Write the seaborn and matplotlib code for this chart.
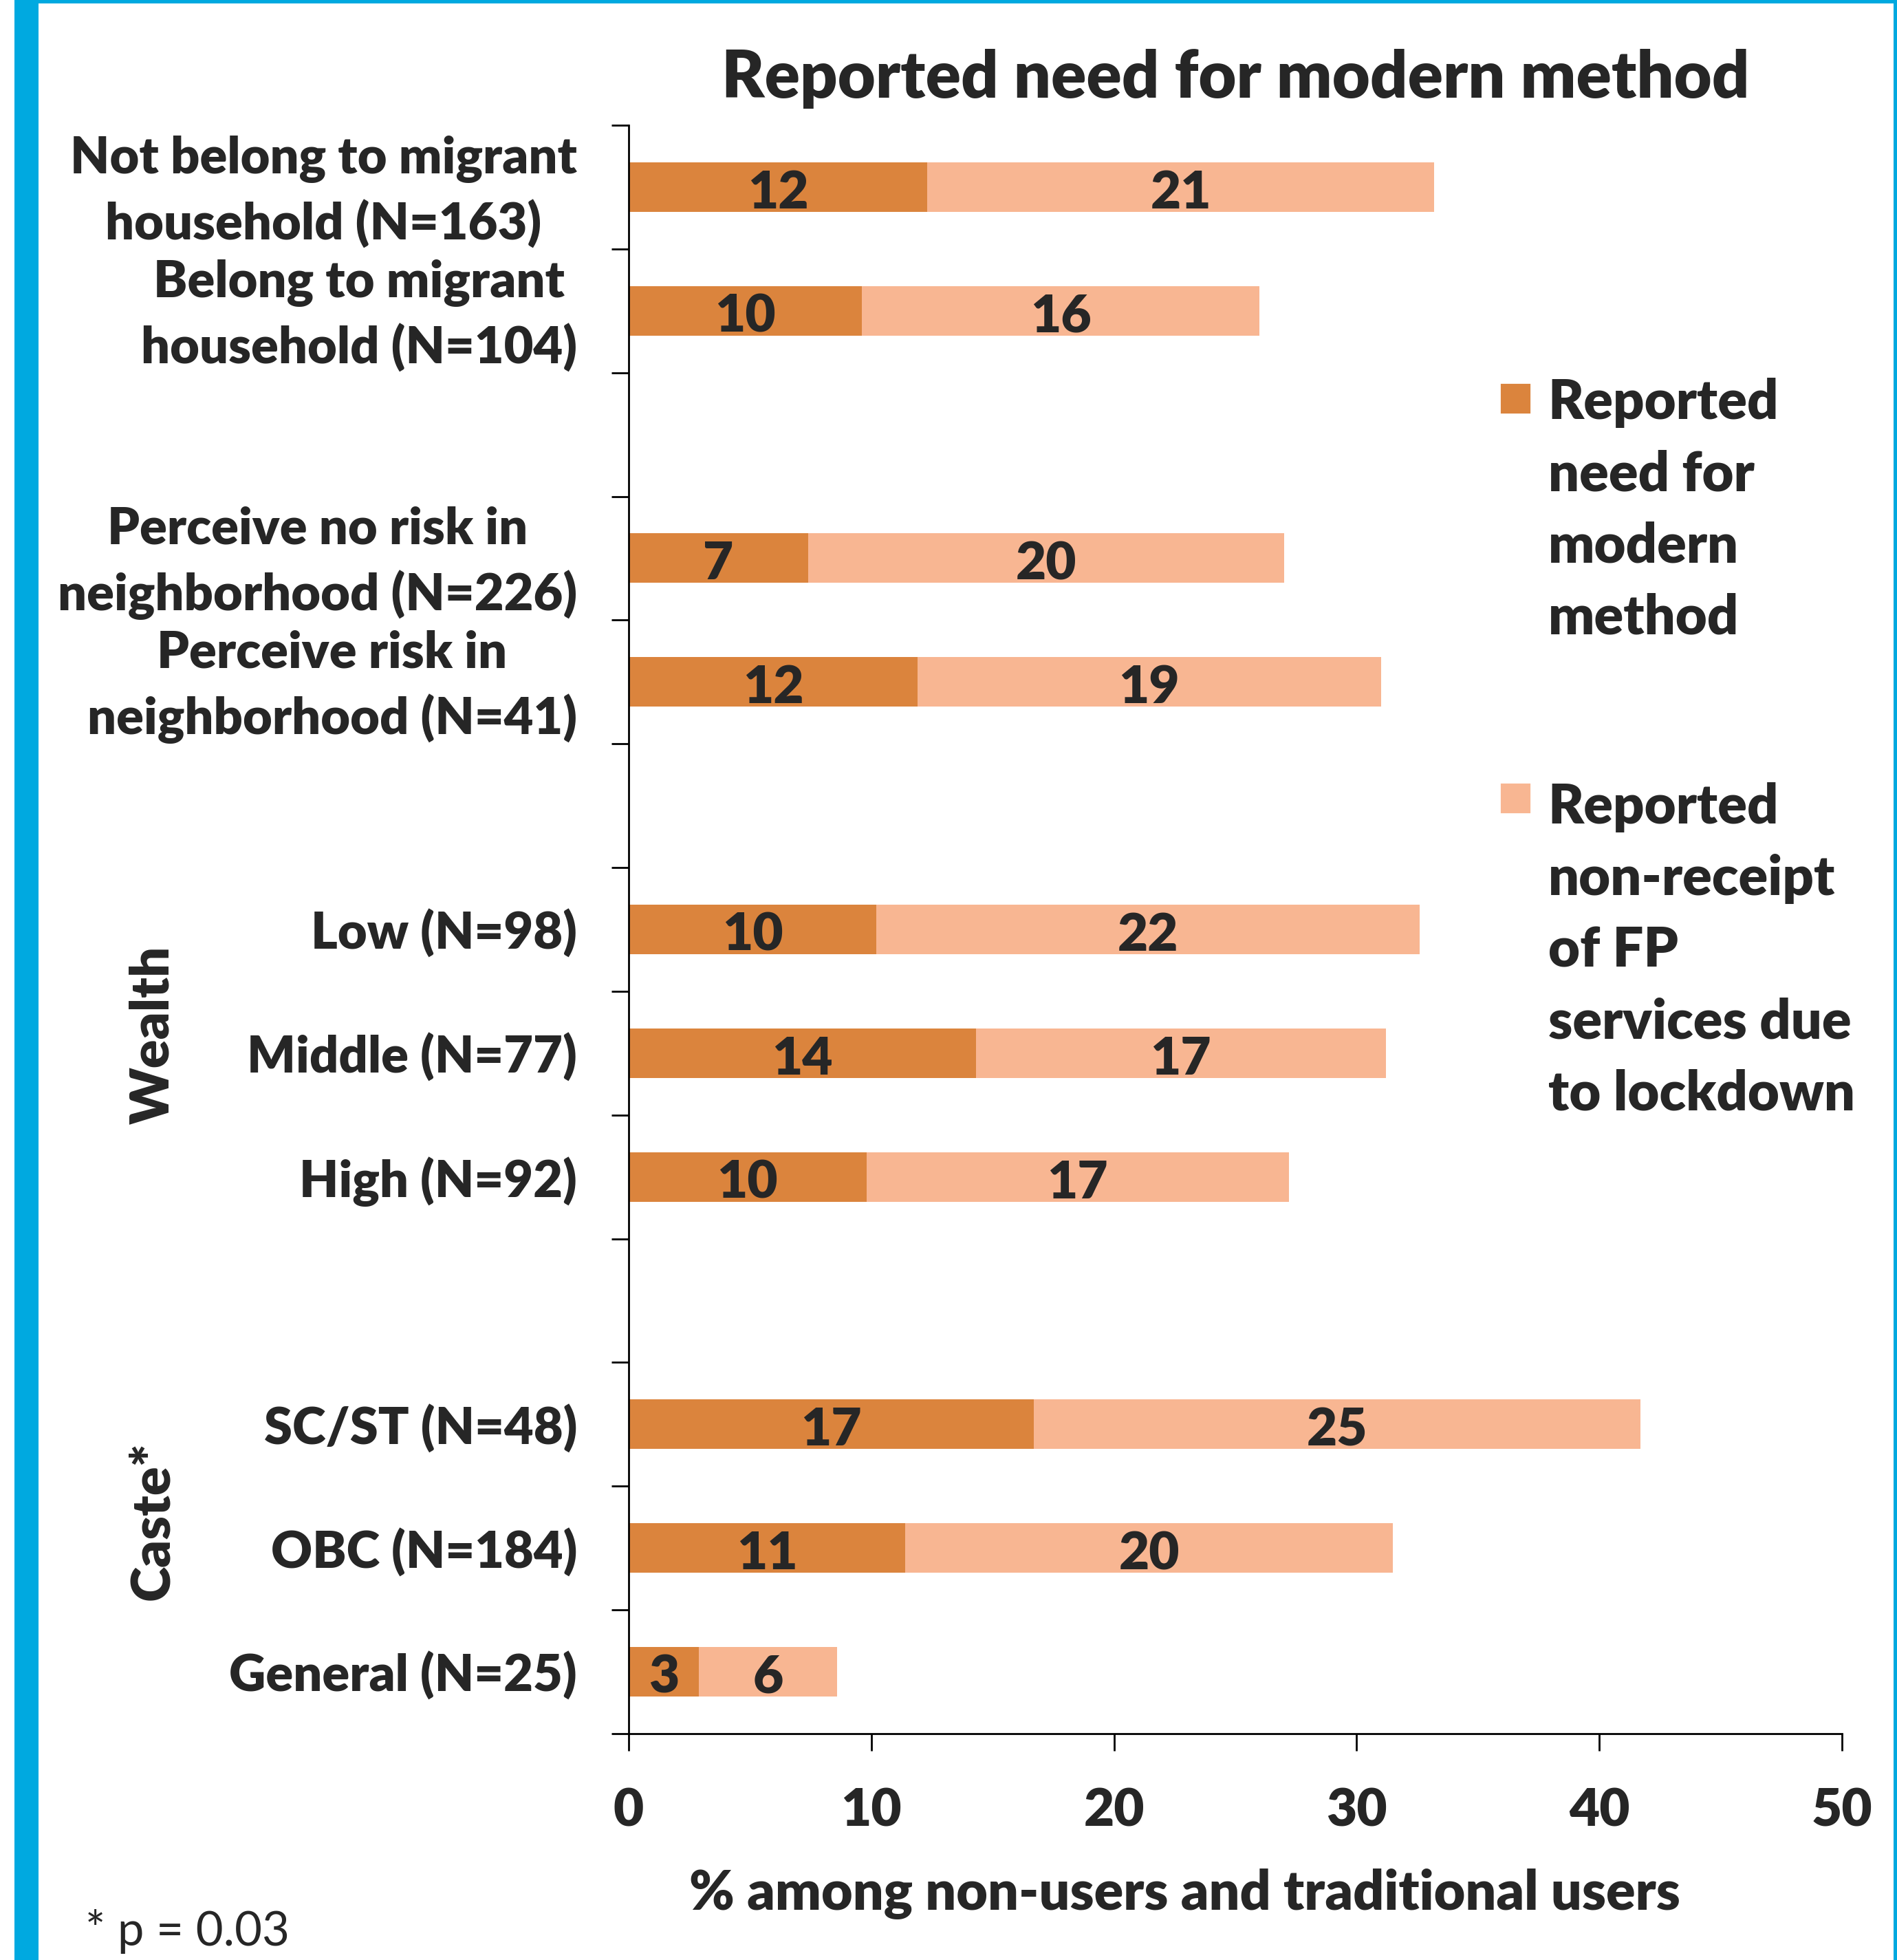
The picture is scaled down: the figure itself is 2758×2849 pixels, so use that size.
import numpy as np
import pandas as pd
import matplotlib.pyplot as plt
import seaborn as sns
from matplotlib.patches import Rectangle
from matplotlib.legend_handler import HandlerPatch
import matplotlib.transforms as mtransforms

# --- data ---
categories = ['Not belong to migrant\nhousehold (N=163)', 'Belong to migrant\nhousehold (N=104)',
              'Perceive no risk in\nneighborhood (N=226)', 'Perceive risk in\nneighborhood (N=41)',
              'Low (N=98)', 'Middle (N=77)', 'High (N=92)',
              'SC/ST (N=48)', 'OBC (N=184)', 'General (N=25)']
need = [12.3, 9.6, 7.4, 11.9, 10.2, 14.3, 9.8, 16.7, 11.4, 2.9]
non_receipt = [20.9, 16.4, 19.6, 19.1, 22.4, 16.9, 17.4, 25.0, 20.1, 5.7]

# row order incl. blank spacer rows between groups
order = categories[:2] + [' '] + categories[2:4] + ['  '] + categories[4:7] + ['   '] + categories[7:]
group_labels = ['Wealth', 'Caste*']
group_rows = [6.85, 10.78]

legend_labels = ['Reported\nneed for\nmodern\nmethod',
                 'Reported\nnon-receipt\nof FP\nservices due\nto lockdown']

dark = '#DB843D'
light = '#F8B692'
blue = '#00A9E0'

df = pd.DataFrame({'group': categories, 'need': need, 'non_receipt': non_receipt})
df['total'] = df['need'] + df['non_receipt']

WT = 'heavy'
sns.set_style('white')
plt.rcParams['font.family'] = ['Lato', 'DejaVu Sans']
plt.rcParams['font.weight'] = WT

FS = 26.6
LEG_FS = 28.6
W, H = 2758, 2849
fig = plt.figure(figsize=(W / 200, H / 200), dpi=200)
ax = fig.add_axes([914 / W, 1 - 2520 / H, (2678 - 914) / W, (2520 - 182) / H])

# stacked bars: totals (light) first, need (dark) on top
sns.barplot(data=df, y='group', x='total', order=order, color=light, saturation=1,
            width=0.4, errorbar=None, linewidth=0, ax=ax)
sns.barplot(data=df, y='group', x='need', order=order, color=dark, saturation=1,
            width=0.4, errorbar=None, linewidth=0, ax=ax)

# segment labels
for _, r in df.iterrows():
    y = order.index(r['group'])
    ax.annotate(f"{round(r['need'])}", (r['need'] / 2, y), xytext=(0, -3.2),
                textcoords='offset points', ha='center', va='center',
                fontsize=27.5, fontweight=WT)
    ax.annotate(f"{round(r['non_receipt'])}", (r['need'] + r['non_receipt'] / 2, y),
                xytext=(0, -3.2), textcoords='offset points', ha='center', va='center',
                fontsize=27.5, fontweight=WT)

ax.set_xlim(0, 50)
ax.set_ylim(len(order) - 0.5, -0.5)
ax.set_xticks(range(0, 51, 10))
ax.set_xticklabels([str(v) for v in range(0, 51, 10)], fontsize=27.5, fontweight=WT)
ax.set_yticks(range(len(order)))
ax.set_yticklabels([o if o.strip() else '' for o in order], fontsize=FS, fontweight=WT)
ax.set_yticks(np.arange(-0.5, len(order), 1), minor=True)
ax.tick_params(axis='y', which='major', length=0, pad=27)
ax.tick_params(axis='y', which='minor', left=True, length=9, width=1, color='black')
ax.tick_params(axis='x', which='major', bottom=True, length=9, width=1, color='black', pad=19)
nudge = mtransforms.ScaledTranslation(0, -2.6 / 72, fig.dpi_scale_trans)
for t in ax.get_yticklabels():
    t.set_multialignment('center')
    t.set_linespacing(1.42)
    if '\n' in t.get_text():
        t.set_va('center')
        t.set_transform(t.get_transform() + nudge)
ax.set_ylabel('')
sns.despine(ax=ax)
for s in ['left', 'bottom']:
    ax.spines[s].set_color('black')
    ax.spines[s].set_linewidth(1)

ax.set_title('Reported need for modern method', fontsize=34.25, fontweight=WT,
             y=(2520 - 114) / (2520 - 182), va='center', pad=0)
ax.set_xlabel('% among non-users and traditional users', fontsize=28.4, fontweight=WT)
ax.xaxis.label.set_va('center')
ax.xaxis.set_label_coords((1722 - 914) / 1764, (2520 - 2753) / 2338)

# group labels
trans = mtransforms.blended_transform_factory(ax.transAxes, ax.transData)
for lab, yr in zip(group_labels, group_rows):
    ax.text(-0.392, yr, lab, rotation=90, ha='center', va='center', fontsize=28,
            fontweight=WT, transform=trans)

# legend: square handle aligned with first line of a multi-line label
LS_LEG = 1.52
ASC, DESC, GLYPH, CAP = 0.987, 0.213, 0.74, 0.72


def top_square(legend, orig_handle, xdescent, ydescent, width, height, fontsize):
    n = orig_handle.get_label().count('\n') + 1
    pitch = LS_LEG * ASC
    yc = fontsize * (0.5 * GLYPH + 0.5 * (n - 1) * pitch + 0.5 * DESC - 0.5 * ASC
                     + 0.5 * CAP - 0.17)
    return Rectangle((-xdescent, yc - width / 2), width, width)


handles = [Rectangle((0, 0), 1, 1, facecolor=dark, label=legend_labels[0]),
           Rectangle((0, 0), 1, 1, facecolor=light, label=legend_labels[1])]
leg = ax.legend(handles=handles, loc='upper left', bbox_to_anchor=(2180 / W, 1 - 549 / H),
                bbox_transform=fig.transFigure, frameon=False, borderpad=0, borderaxespad=0,
                handlelength=16.5 / LEG_FS, handleheight=0.7, handletextpad=9.0 / LEG_FS,
                labelspacing=2.55, prop={'size': LEG_FS, 'weight': WT},
                handler_map={Rectangle: HandlerPatch(patch_func=top_square)})
for t in leg.get_texts():
    t.set_linespacing(LS_LEG)

fig.text(124 / W, 1 - 2807 / H, '* p = 0.03', fontsize=24.8, fontweight='normal',
         ha='left', va='center')

# blue frame
fig.add_artist(Rectangle((21 / W, 0), 35 / W, 1, transform=fig.transFigure, color=blue, lw=0))
fig.add_artist(Rectangle((21 / W, 1 - 5 / H), 1, 5 / H, transform=fig.transFigure, color=blue, lw=0))
fig.add_artist(Rectangle((1 - 5 / W, 0), 5 / W, 1, transform=fig.transFigure, color=blue, lw=0))

fig.savefig('out.png', dpi=200)
plt.close(fig)
